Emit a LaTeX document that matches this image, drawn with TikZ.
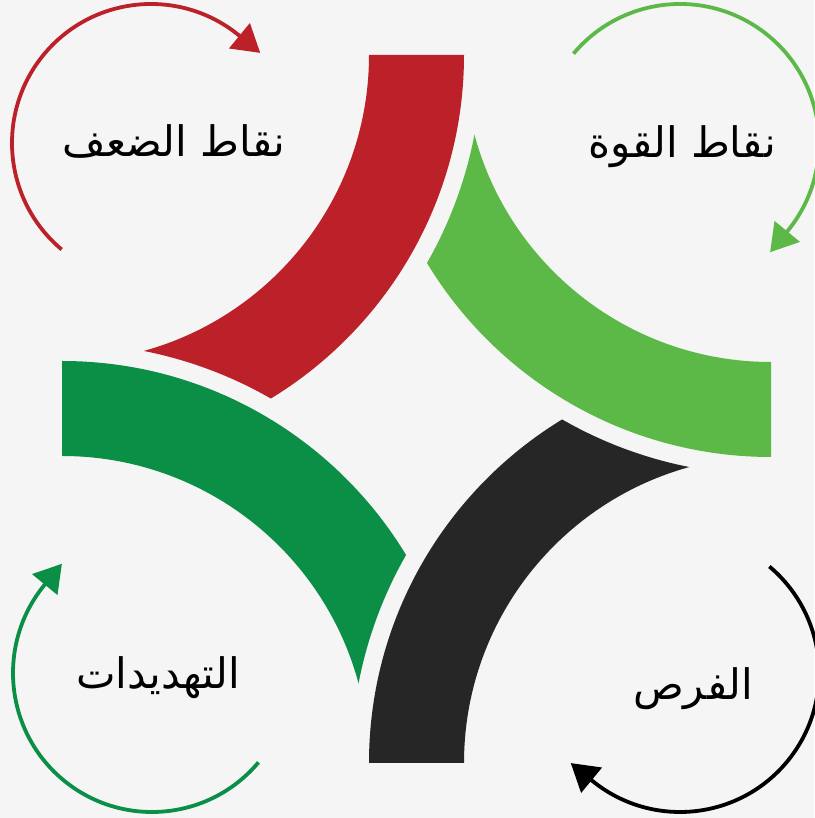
\documentclass[tikz,border=0pt]{standalone}
\usepackage{fontspec}
\newfontfamily\arabicfont[Script=Arabic]{DejaVu Sans}
\TeXXeTstate=1
\usetikzlibrary{arrows.meta,calc}
\definecolor{cRed}{HTML}{BC2029}
\definecolor{cLight}{HTML}{5CB947}
\definecolor{cBlack}{HTML}{262626}
\definecolor{cDark}{HTML}{0B8F46}
\definecolor{cBg}{HTML}{F5F5F5}
\newcommand{\swotband}[4]{%
  \begin{scope}[even odd rule]
    \clip (-20,-20) rectangle (834,838) (#4) circle[radius=420];
    \fill[#1] ($(#2)+(#3:307)$) -- ($(#2)+(#3:402)$)
      arc[start angle=#3, end angle={#3-85}, radius=402]
      -- ($(#2)+({#3-85}:307)$)
      arc[start angle={#3-85}, end angle=#3, radius=307] -- cycle;
  \end{scope}}
\begin{document}
\begin{tikzpicture}[x=1pt,y=1pt,
  cyc/.style={line width=3.8pt, -{Triangle[length=27pt,width=32pt]}},
  lbl/.style={font=\arabicfont\fontsize{42}{48}\selectfont, text=black, inner sep=0pt, anchor=base}]
\fill[cBg] (0,0) rectangle (814,818);
\useasboundingbox (0,0) rectangle (814,818);
% band centres
\coordinate (cR) at (62,763);
\coordinate (cG) at (771,763);
\coordinate (cK) at (771,55);
\coordinate (cD) at (62,55);
\swotband{cRed}{cR}{0}{cD}
\swotband{cLight}{cG}{-90}{cR}
\swotband{cBlack}{cK}{180}{cG}
\swotband{cDark}{cD}{90}{cK}
% circular arrows
\coordinate (aR) at (151,675);
\coordinate (aG) at (680,675);
\coordinate (aK) at (680,145);
\coordinate (aD) at (152,145);
\draw[cyc, cRed] ($(aR)+(230:139)$) arc[start angle=230, end angle=50.5, radius=139] -- ++(-39.5:27);
\draw[cyc, cLight] ($(aG)+(140:139)$) arc[start angle=140, end angle=-39.5, radius=139] -- ++(-129.5:27);
\draw[cyc, black] ($(aK)+(50:139)$) arc[start angle=50, end angle=-129.5, radius=139] -- ++(140.5:27);
\draw[cyc, cDark] ($(aD)+(-40:139)$) arc[start angle=-40, end angle=-219.5, radius=139] -- ++(50.5:27);
% labels
\node[lbl] (tw) at (174,661) {\beginR نقاط الضعف\endR};
\node[lbl] (ts) at (682,660) {\beginR نقاط القوة\endR};
\node[lbl] (tt) at (158,129) {\beginR التهديدات\endR};
\node[lbl] (to) at (693,118) {\beginR الفرص\endR};
\end{tikzpicture}
\end{document}
